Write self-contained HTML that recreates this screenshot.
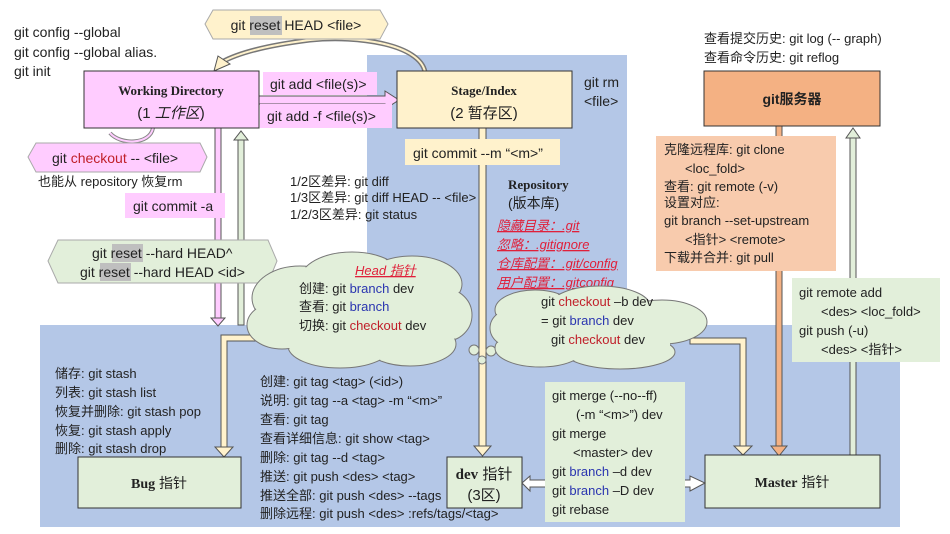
<!DOCTYPE html>
<html><head><meta charset="utf-8"><style>
body{margin:0;background:#fff}
svg{display:block}
text{font-family:"Liberation Sans","Noto Sans CJK SC",sans-serif;fill:#222}
.s{font-size:13px}
.m{font-size:14px}
.b{font-family:"Liberation Serif","Noto Serif CJK SC",serif;font-weight:bold}
.r{fill:#c0202a}.bl{fill:#2a35b0}
.u{fill:#e0203a;font-style:italic;text-decoration:underline;font-size:13px}
</style></head><body>
<svg width="950" height="534" viewBox="0 0 950 534" xmlns="http://www.w3.org/2000/svg">
<rect x="367" y="55" width="260" height="275" fill="#b4c7e7"/>
<rect x="40" y="325" width="860" height="202" fill="#b4c7e7"/>

<rect x="215" y="128" width="6" height="190" fill="#ffccff" stroke="#555" stroke-width="1"/>
<polygon points="211,318 225,318 218,326" fill="#ffccff" stroke="#555"/>
<rect x="238" y="140" width="6" height="185" fill="#e2efda" stroke="#555"/>
<polygon points="234,140 248,140 241,131" fill="#e2efda" stroke="#555"/>
<rect x="479" y="128" width="7" height="318" fill="#fff2cc" stroke="#555"/>
<polygon points="474,446 491,446 482.5,456" fill="#fff2cc" stroke="#555"/>
<rect x="776" y="126" width="6" height="320" fill="#f4b183" stroke="#555"/>
<polygon points="771,446 787,446 779,456" fill="#f4b183" stroke="#555"/>
<rect x="850" y="138" width="6" height="317" fill="#e2efda" stroke="#555"/>
<polygon points="846,138 860,138 853,128" fill="#e2efda" stroke="#555"/>
<path d="M300,335 L221,335 L221,447 L227,447 L227,341 L300,341 Z" fill="#fff2cc" stroke="#555"/>
<polygon points="215,447 233,447 224,457" fill="#fff2cc" stroke="#555"/>
<path d="M690,338 L746,338 L746,446 L740,446 L740,344 L690,344 Z" fill="#fff2cc" stroke="#555"/>
<polygon points="734,446 752,446 743,455" fill="#fff2cc" stroke="#555"/>
<path d="M259,96 L385,96 L385,91 L399,100 L385,109 L385,104 L259,104 Z" fill="#ffccff" stroke="#555"/>
<path d="M425,72 C420,45 360,35 310,40 C270,45 240,52 222,62" fill="none" stroke="#777" stroke-width="5"/>
<path d="M425,72 C420,45 360,35 310,40 C270,45 240,52 222,62" fill="none" stroke="#fff2cc" stroke-width="2"/>
<polygon points="214,71 218,56 230,64" fill="#fff2cc" stroke="#555"/>
<path d="M153,128 C150,145 120,145 110,133" fill="none" stroke="#888" stroke-width="4"/>
<path d="M153,128 C150,145 120,145 110,133" fill="none" stroke="#ffccff" stroke-width="2"/>

<rect x="84" y="71" width="175" height="57" fill="#ffccff" stroke="#333"/>
<text x="171" y="95" text-anchor="middle" class="b" font-size="13">Working Directory</text>
<text x="171" y="118" text-anchor="middle" font-size="15">(1 <tspan font-style="italic">工作区</tspan>)</text>
<rect x="397" y="71" width="175" height="57" fill="#fff2cc" stroke="#333"/>
<text x="484" y="95" text-anchor="middle" class="b" font-size="13">Stage/Index</text>
<text x="484" y="118" text-anchor="middle" font-size="15">(2 暂存区)</text>
<rect x="704" y="71" width="176" height="55" fill="#f4b183" stroke="#333"/>
<text x="792" y="104" text-anchor="middle" font-size="14" font-weight="bold">git服务器</text>
<rect x="78" y="457" width="163" height="51" fill="#e2efda" stroke="#333"/>
<text x="159" y="488" text-anchor="middle" font-size="14"><tspan class="b">Bug</tspan> 指针</text>
<rect x="447" y="457" width="75" height="51" fill="#e2efda" stroke="#333"/>
<text x="484" y="479" text-anchor="middle" font-size="15"><tspan class="b">dev</tspan> 指针</text>
<text x="484" y="500" text-anchor="middle" font-size="15">(3区)</text>
<rect x="705" y="455" width="175" height="53" fill="#e2efda" stroke="#333"/>
<text x="792" y="487" text-anchor="middle" font-size="14"><tspan class="b">Master</tspan> 指针</text>

<polygon points="205,24 213,10 380,10 388,24 380,39 213,39" fill="#fff2cc" stroke="#aaa"/>
<rect x="250" y="16" width="32" height="19" fill="#bfbfbf"/>
<text x="296" y="30" text-anchor="middle" class="m">git reset HEAD &lt;file&gt;</text>
<text x="14" y="37" class="m">git config --global</text>
<text x="14" y="57" class="m">git config --global alias.</text>
<text x="14" y="76" class="m">git init</text>
<rect x="263" y="72" width="114" height="23" fill="#ffccff"/>
<text x="270" y="89" class="m">git add &lt;file(s)&gt;</text>
<rect x="260" y="104" width="132" height="24" fill="#ffccff"/>
<text x="267" y="121" class="m">git add -f &lt;file(s)&gt;</text>
<polygon points="28,157 36,143 200,143 207,157 200,172 36,172" fill="#ffccff" stroke="#aaa"/>
<text x="52" y="163" class="m">git <tspan class="r">checkout</tspan> -- &lt;file&gt;</text>
<text x="38" y="186" class="s">也能从 repository 恢复rm</text>
<rect x="125" y="193" width="100" height="25" fill="#ffccff"/>
<text x="133" y="211" class="m">git commit -a</text>
<polygon points="48,261 58,240 268,240 277,261 268,283 58,283" fill="#e2efda" stroke="#aaa"/>
<rect x="112" y="244" width="31" height="18" fill="#bfbfbf"/>
<rect x="100" y="263" width="31" height="18" fill="#bfbfbf"/>
<text x="92" y="258" class="m">git reset --hard HEAD^</text>
<text x="80" y="277" class="m">git reset --hard HEAD &lt;id&gt;</text>
<rect x="405" y="139" width="155" height="26" fill="#fff2cc"/>
<text x="413" y="158" class="m">git commit --m “&lt;m&gt;”</text>
<text x="584" y="87" class="m">git rm</text>
<text x="584" y="106" class="m">&lt;file&gt;</text>
<text x="508" y="189" class="b" font-size="13">Repository</text>
<text x="508" y="208" font-size="14">(版本库)</text>
<text x="497" y="230" class="u">隐藏目录：.git</text>
<text x="497" y="249" class="u">忽略：.gitignore</text>
<text x="497" y="268" class="u">仓库配置：.git/config</text>
<text x="497" y="287" class="u">用户配置：.gitconfig</text>
<text x="290" y="186" class="s">1/2区差异: git diff</text>
<text x="290" y="202" class="s">1/3区差异: git diff HEAD -- &lt;file&gt;</text>
<text x="290" y="219" class="s">1/2/3区差异: git status</text>
<text x="704" y="43" class="s">查看提交历史: git log (-- graph)</text>
<text x="704" y="62" class="s">查看命令历史: git reflog</text>
<rect x="656" y="136" width="180" height="135" fill="#f8cbad"/>
<text x="664" y="154" class="s">克隆远程库: git clone</text>
<text x="685" y="173" class="s">&lt;loc_fold&gt;</text>
<text x="664" y="191" class="s">查看: git remote (-v)</text>
<text x="664" y="207" class="s">设置对应:</text>
<text x="664" y="225" class="s">git branch --set-upstream</text>
<text x="685" y="244" class="s">&lt;指针&gt; &lt;remote&gt;</text>
<text x="664" y="262" class="s">下载并合并: git pull</text>
<rect x="792" y="278" width="148" height="84" fill="#e2efda"/>
<text x="799" y="297" class="s">git remote add</text>
<text x="821" y="316" class="s">&lt;des&gt; &lt;loc_fold&gt;</text>
<text x="799" y="335" class="s">git push (-u)</text>
<text x="821" y="354" class="s">&lt;des&gt; &lt;指针&gt;</text>

<g fill="#e2efda" stroke="#777">
<ellipse cx="300" cy="298" rx="48" ry="32"/><ellipse cx="352" cy="280" rx="52" ry="28"/><ellipse cx="412" cy="284" rx="50" ry="28"/>
<ellipse cx="446" cy="315" rx="26" ry="26"/><ellipse cx="410" cy="344" rx="46" ry="22"/><ellipse cx="340" cy="346" rx="52" ry="22"/><ellipse cx="282" cy="325" rx="35" ry="24"/>
<circle cx="474" cy="350" r="5"/><circle cx="482" cy="360" r="4"/><circle cx="491" cy="351" r="5"/>
<ellipse cx="535" cy="310" rx="40" ry="20"/><ellipse cx="600" cy="306" rx="50" ry="20"/><ellipse cx="662" cy="322" rx="45" ry="22"/>
<ellipse cx="620" cy="352" rx="55" ry="17"/><ellipse cx="540" cy="348" rx="45" ry="19"/><ellipse cx="515" cy="328" rx="25" ry="20"/>
</g>
<g fill="#e2efda">
<ellipse cx="300" cy="298" rx="47" ry="31"/><ellipse cx="352" cy="280" rx="51" ry="27"/><ellipse cx="412" cy="284" rx="49" ry="27"/>
<ellipse cx="446" cy="315" rx="25" ry="25"/><ellipse cx="410" cy="344" rx="45" ry="21"/><ellipse cx="340" cy="346" rx="51" ry="21"/><ellipse cx="282" cy="325" rx="34" ry="23"/>
<rect x="290" y="290" width="150" height="50"/>
<ellipse cx="535" cy="310" rx="39" ry="19"/><ellipse cx="600" cy="306" rx="49" ry="19"/><ellipse cx="662" cy="322" rx="44" ry="21"/>
<ellipse cx="620" cy="352" rx="54" ry="16"/><ellipse cx="540" cy="348" rx="44" ry="18"/><ellipse cx="515" cy="328" rx="24" ry="19"/>
<rect x="520" y="305" width="150" height="42"/>
</g>
<text x="355" y="275" class="u" font-size="14">Head 指针</text>
<text x="299" y="293" class="s">创建: git <tspan class="bl">branch</tspan> dev</text>
<text x="299" y="311" class="s">查看: git <tspan class="bl">branch</tspan></text>
<text x="299" y="330" class="s">切换: git <tspan class="r">checkout</tspan> dev</text>
<text x="541" y="306" class="s">git <tspan class="r">checkout</tspan> –b dev</text>
<text x="541" y="325" class="s">= git <tspan class="bl">branch</tspan> dev</text>
<text x="551" y="344" class="s">git <tspan class="r">checkout</tspan> dev</text>

<text x="55" y="378" class="s">储存: git stash</text>
<text x="55" y="397" class="s">列表: git stash list</text>
<text x="55" y="416" class="s">恢复并删除: git stash pop</text>
<text x="55" y="435" class="s">恢复: git stash apply</text>
<text x="55" y="453" class="s">删除: git stash drop</text>
<text x="260" y="386" class="s">创建: git tag &lt;tag&gt; (&lt;id&gt;)</text>
<text x="260" y="405" class="s">说明: git tag --a &lt;tag&gt; -m “&lt;m&gt;”</text>
<text x="260" y="424" class="s">查看: git tag</text>
<text x="260" y="443" class="s">查看详细信息: git show &lt;tag&gt;</text>
<text x="260" y="462" class="s">删除: git tag --d &lt;tag&gt;</text>
<text x="260" y="481" class="s">推送: git push &lt;des&gt; &lt;tag&gt;</text>
<text x="260" y="500" class="s">推送全部: git push &lt;des&gt; --tags</text>
<text x="260" y="518" class="s">删除远程: git push &lt;des&gt; :refs/tags/&lt;tag&gt;</text>
<path d="M522,483 L530,476 L530,480 L690,480 L690,476 L705,483 L690,491 L690,487 L530,487 L530,491 Z" fill="#fff" stroke="#555"/>
<rect x="545" y="382" width="140" height="140" fill="#e2efda"/>
<text x="552" y="400" class="s">git merge (--no--ff)</text>
<text x="576" y="419" class="s">(-m “&lt;m&gt;”) dev</text>
<text x="552" y="438" class="s">git merge</text>
<text x="573" y="457" class="s">&lt;master&gt; dev</text>
<text x="552" y="476" class="s">git <tspan class="bl">branch</tspan> –d dev</text>
<text x="552" y="495" class="s">git <tspan class="bl">branch</tspan> –D dev</text>
<text x="552" y="514" class="s">git rebase</text>
</svg>
</body></html>
